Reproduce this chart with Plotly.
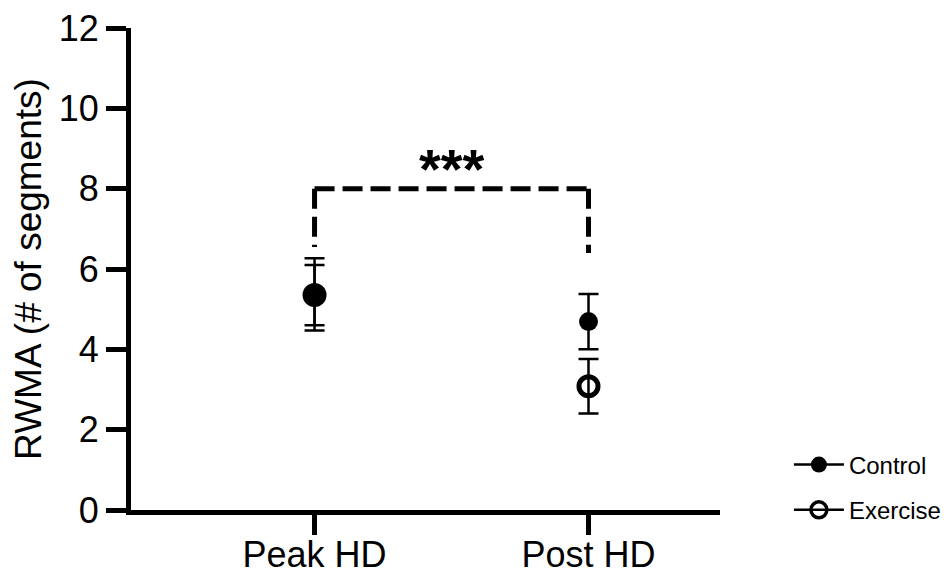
import plotly.graph_objects as go

categories = ["Peak HD", "Post HD"]
cat_pos = [1, 2]
control_mean = [5.37, 4.69]
control_err = [0.9, 0.69]
exercise_mean = [5.35, 3.08]
exercise_err = [0.75, 0.68]
y_ticks = [0, 2, 4, 6, 8, 10, 12]

bracket_y = 8.0
bracket_left_end = 6.55
bracket_right_end = 6.4
stars_y = 8.5

FONT = "Liberation Sans, Arial, sans-serif"

fig = go.Figure()

fig.add_trace(go.Scatter(
    x=cat_pos, y=control_mean, mode="markers", showlegend=False,
    marker=dict(symbol="circle", size=19, color="black"),
    error_y=dict(type="data", array=control_err, color="black", thickness=2.5, width=10),
))
fig.add_trace(go.Scatter(
    x=cat_pos, y=exercise_mean, mode="markers", showlegend=False,
    marker=dict(symbol="circle-open", size=19, color="black", line=dict(width=5, color="black")),
    error_y=dict(type="data", array=exercise_err, color="black", thickness=2.5, width=10),
))

# legend entries
fig.add_trace(go.Scatter(
    x=[None], y=[None], mode="lines+markers", name="Control", legendgroup="c",
    marker=dict(symbol="circle", size=19, color="black"),
    line=dict(color="black", width=2.5),
))
fig.add_trace(go.Scatter(
    x=[None], y=[None], mode="lines+markers", name="Exercise", legendgroup="e",
    marker=dict(symbol="circle-open", size=18, color="black", line=dict(width=3.5, color="black")),
    line=dict(color="black", width=2.5),
))

# significance bracket
dash = "20px,8px"
fig.add_shape(type="line", x0=cat_pos[0], x1=cat_pos[1], y0=bracket_y, y1=bracket_y,
              line=dict(color="black", width=5, dash=dash))
fig.add_shape(type="line", x0=cat_pos[0], x1=cat_pos[0], y0=bracket_y, y1=bracket_left_end,
              line=dict(color="black", width=5, dash=dash))
fig.add_shape(type="line", x0=cat_pos[1], x1=cat_pos[1], y0=bracket_y, y1=bracket_right_end,
              line=dict(color="black", width=5, dash=dash))
fig.add_annotation(x=(cat_pos[0] + cat_pos[1]) / 2, y=stars_y, text="<b>***</b>",
                   showarrow=False, font=dict(size=56, color="black", family=FONT))

# page body has an 8px margin, so the figure is shifted by 8px; compensate in margins
fig.update_layout(
    width=975, height=576,
    margin=dict(l=123, r=263, t=20, b=74, autoexpand=False),
    plot_bgcolor="white", paper_bgcolor="white",
    font=dict(family=FONT, color="black"),
    legend=dict(x=1.117, y=0.14, xanchor="left", yanchor="top",
                font=dict(size=24, family=FONT, color="black"),
                traceorder="grouped", tracegroupgap=11, itemwidth=50),
)
fig.update_xaxes(
    range=[0.33, 2.48], tickvals=cat_pos, ticktext=categories, automargin=False,
    showline=True, linecolor="black", linewidth=5,
    ticks="outside", ticklen=20, tickwidth=5, tickcolor="black",
    showgrid=False, zeroline=False, tickfont=dict(size=36), ticklabelstandoff=-11,
)
fig.update_yaxes(
    range=[0, 12], tickvals=y_ticks, automargin=False, ticklabeloverflow="allow",
    showline=True, linecolor="black", linewidth=5,
    ticks="outside", ticklen=20, tickwidth=5, tickcolor="black",
    showgrid=False, zeroline=False, tickfont=dict(size=36),
    title=dict(text="RWMA (# of segments)", font=dict(size=37), standoff=7),
)

fig.write_html("out.html")
